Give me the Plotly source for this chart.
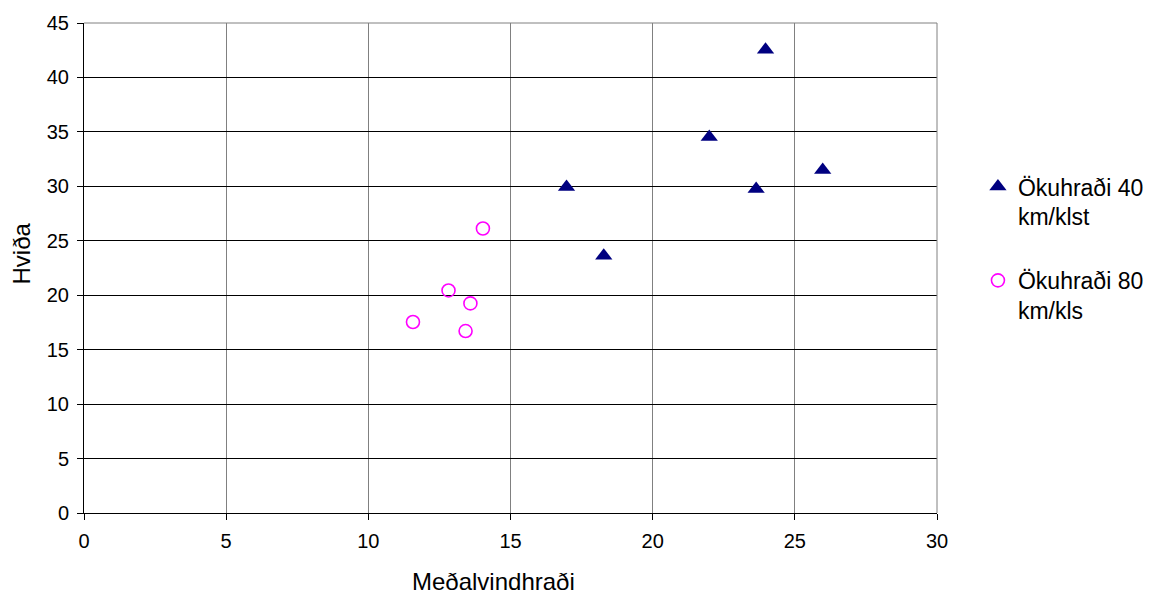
import plotly.graph_objects as go

# Data
x40 = [23.97, 21.99, 16.97, 23.64, 25.98, 18.28]
y40 = [42.55, 34.53, 29.94, 29.75, 31.50, 23.63]
x80 = [14.03, 12.82, 13.59, 11.57, 13.42]
y80 = [26.13, 20.44, 19.25, 17.54, 16.71]

name40 = "Ökuhraði 40<br>km/klst"
name80 = "Ökuhraði 80<br>km/kls"
x_title = "Meðalvindhraði"
y_title = "Hviða"

FONT = "Liberation Sans, Arial, sans-serif"

fig = go.Figure()
fig.add_trace(go.Scatter(
    x=x40, y=y40, mode="markers", name=name40, legendgroup="a",
    marker=dict(symbol="triangle-up", size=15, color="#000080",
                line=dict(width=0)),
))
fig.add_trace(go.Scatter(
    x=x80, y=y80, mode="markers", name=name80, legendgroup="b",
    marker=dict(symbol="circle-open", size=13, color="#FF00FF",
                line=dict(width=1.6, color="#FF00FF")),
))

fig.update_layout(
    width=1152, height=594,
    margin=dict(l=84, r=215, t=23, b=81, autoexpand=False),
    paper_bgcolor="white", plot_bgcolor="white",
    font=dict(family=FONT, color="black", size=20),
    showlegend=True,
    legend=dict(
        x=1.048, y=0.71, xanchor="left", yanchor="top",
        font=dict(family=FONT, size=23, color="black"),
        valign="top", tracegroupgap=31, itemwidth=30,
        bgcolor="rgba(0,0,0,0)",
    ),
    xaxis=dict(
        range=[0, 30], dtick=5, tick0=0,
        showgrid=True, gridcolor="#808080", gridwidth=1,
        showline=True, linecolor="black", linewidth=1,
        ticks="outside", ticklen=6, tickcolor="black",
        zeroline=False, tickfont=dict(size=20), ticklabelstandoff=4,
    ),
    yaxis=dict(
        range=[0, 45], dtick=5, tick0=0,
        showgrid=True, gridcolor="black", gridwidth=1,
        showline=True, linecolor="black", linewidth=1,
        ticks="outside", ticklen=6, tickcolor="black",
        zeroline=False, tickfont=dict(size=20), ticklabelstandoff=4,
    ),
    annotations=[
        dict(text=x_title, xref="paper", yref="paper", x=0.4795, y=-0.1388,
             xanchor="center", yanchor="middle", showarrow=False,
             font=dict(family=FONT, size=24, color="black")),
        dict(text=y_title, xref="paper", yref="paper", x=-0.0727, y=0.5296,
             xanchor="center", yanchor="middle", showarrow=False, textangle=-90,
             font=dict(family=FONT, size=24, color="black")),
    ],
    shapes=[
        dict(type="line", xref="paper", yref="paper", x0=0, x1=1, y0=1, y1=1,
             line=dict(color="#808080", width=1)),
        dict(type="line", xref="paper", yref="paper", x0=1, x1=1, y0=0, y1=1,
             line=dict(color="#808080", width=1)),
    ],
)

fig.write_html("out.html")
